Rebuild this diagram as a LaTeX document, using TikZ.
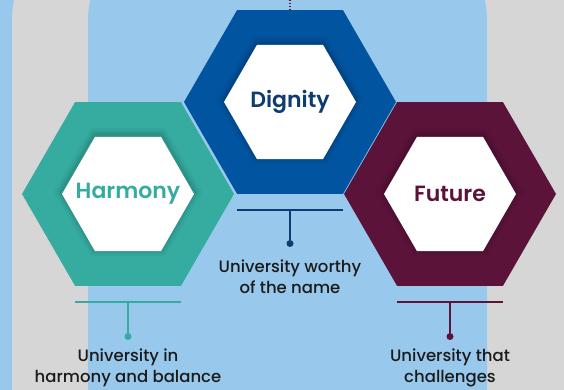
\documentclass[tikz,border=0pt]{standalone}
\usepackage{fontspec}
\setmainfont{Poppins}
\newfontfamily\titlefont{Poppins SemiBold}
\newfontfamily\capfont{Poppins Medium}
\usetikzlibrary{positioning,shapes.geometric}

\definecolor{skyblue}{HTML}{98C9EC}
\definecolor{panelgray}{HTML}{D6D6D6}
\definecolor{harmony}{HTML}{35AC9F}
\definecolor{dignity}{HTML}{0054A0}
\definecolor{dignitytext}{HTML}{0D3C73}
\definecolor{future}{HTML}{5B133A}
\definecolor{captext}{HTML}{1A1A1A}

\tikzset{
  hexring/.style={regular polygon, regular polygon sides=6, minimum size=212pt,
    inner sep=0pt, outer sep=0pt},
  hexcore/.style={regular polygon, regular polygon sides=6, minimum size=132pt,
    inner sep=0pt, outer sep=0pt, fill=white},
  hextitle/.style={inner sep=0pt, font=\titlefont\fontsize{22}{24}\selectfont},
  hexshade/.style={regular polygon, regular polygon sides=6, inner sep=0pt,
    fill=black},
  bar/.style={line width=1.5pt},
  dot/.style={circle, inner sep=0pt, minimum size=7pt},
  caption/.style={align=center, text=captext, inner sep=2pt,
    font=\capfont\fontsize{16.5}{21.5}\selectfont}
}

% soft shade around a white core
\newcommand{\coreshade}[1]{%
  \foreach \s/\o in {148/0.03,142/0.05,137/0.07}
    \node[hexshade, minimum size=\s pt, opacity=\o] at ([yshift=2pt]#1) {};}

\begin{document}
\begin{tikzpicture}[x=1pt,y=1pt]
  \useasboundingbox (0,0) rectangle (564,390);
  \clip (0,0) rectangle (564,390);
  % backdrop
  \fill[skyblue] (0,0) rectangle (564,390);
  \fill[panelgray, rounded corners=90pt] (12,-200) rectangle (640,460);
  \fill[skyblue, rounded corners=90pt] (88,-200) rectangle (487,460);

  % hexagons
  \node[hexring, fill=dignity] (dig) at (290,288) {};
  \node[hexring, fill=harmony] (har) at (128,196) {};
  \node[hexring, fill=future] (fut) at (450,196) {};
  \coreshade{dig}
  \coreshade{har}
  \coreshade{fut}
  \node[hexcore] (digcore) at (dig) {};
  \node[hexcore] (harcore) at (har) {};
  \node[hexcore] (futcore) at (fut) {};
  \node[hextitle, text=dignitytext] (digtitle) at (digcore) {Dignity};
  \node[hextitle, text=harmony] (hartitle) at (harcore) {Harmony};
  \node[hextitle, text=future] (futtitle) at (futcore) {Future};

  % top dotted lead
  \coordinate (digtop) at (290,390);
  \draw[future, line width=1.2pt, dash pattern=on 1.5pt off 1.5pt] (digtop) -- (dig.north);

  % Dignity label
  \coordinate[below=16pt of dig.south] (digbar);
  \coordinate[left=53pt of digbar] (digbarL);
  \coordinate[right=53pt of digbar] (digbarR);
  \draw[bar, dignitytext] (digbarL) -- (digbarR);
  \node[dot, fill=dignitytext, below=30pt of digbar] (digdot) {};
  \draw[bar, dignitytext] (digbar) -- (digdot);
  \node[caption, below=10pt of digdot] (digcap) {University worthy\\of the name};

  % Harmony label
  \coordinate[below=16pt of har.south] (harbar);
  \coordinate[left=53pt of harbar] (harbarL);
  \coordinate[right=53pt of harbar] (harbarR);
  \draw[bar, harmony] (harbarL) -- (harbarR);
  \node[dot, fill=harmony, below=31pt of harbar] (hardot) {};
  \draw[bar, harmony] (harbar) -- (hardot);
  \node[caption, below=6pt of hardot] (harcap) {University in\\harmony and balance};

  % Future label
  \coordinate[below=16pt of fut.south] (futbar);
  \coordinate[left=53pt of futbar] (futbarL);
  \coordinate[right=53pt of futbar] (futbarR);
  \draw[bar, future] (futbarL) -- (futbarR);
  \node[dot, fill=future, below=31pt of futbar] (futdot) {};
  \draw[bar, future] (futbar) -- (futdot);
  \node[caption, below=6pt of futdot] (futcap) {University that\\challenges};
\end{tikzpicture}
\end{document}
